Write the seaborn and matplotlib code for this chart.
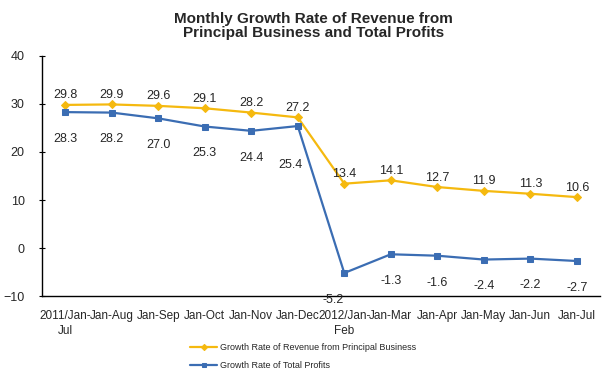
import matplotlib
matplotlib.use('Agg')
import matplotlib.pyplot as plt
import pandas as pd
import seaborn as sns

# periods on the x axis
periods = ['2011/Jan-\nJul', 'Jan-Aug', 'Jan-Sep', 'Jan-Oct', 'Jan-Nov', 'Jan-Dec',
           '2012/Jan-\nFeb', 'Jan-Mar', 'Jan-Apr', 'Jan-May', 'Jan-Jun', 'Jan-Jul']
revenue = [29.8, 29.9, 29.6, 29.1, 28.2, 27.2, 13.4, 14.1, 12.7, 11.9, 11.3, 10.6]
profits = [28.3, 28.2, 27.0, 25.3, 24.4, 25.4, -5.2, -1.3, -1.6, -2.4, -2.2, -2.7]

revenue_name = 'Growth Rate of Revenue from Principal Business'
profits_name = 'Growth Rate of Total Profits'

YELLOW = '#F5B90F'
BLUE = '#3B6DB3'

sns.set_style('white')
plt.rcParams['font.family'] = ['Liberation Sans', 'DejaVu Sans']

df = pd.DataFrame({'pos': range(len(periods)), 'revenue': revenue, 'profits': profits})

fig = plt.figure(figsize=(6.08, 3.83), dpi=100)
ax = fig.add_axes([0.069, 0.227, 0.918, 0.627])

sns.lineplot(data=df, x='pos', y='revenue', ax=ax, color=YELLOW, marker='D',
             markersize=4.5, markeredgecolor=YELLOW, linewidth=1.6, label=revenue_name)
sns.lineplot(data=df, x='pos', y='profits', ax=ax, color=BLUE, marker='s',
             markersize=4.5, markeredgecolor=BLUE, linewidth=1.6, label=profits_name)

# a couple of profit labels are nudged aside in the original
nudge = {5: (-5, -24), 6: (-8, -15)}
for i in range(len(periods)):
    ax.annotate(f'{revenue[i]:.1f}', (i, revenue[i]), xytext=(0, 2.5), textcoords='offset points',
                ha='center', va='bottom', fontsize=9)
    ax.annotate(f'{profits[i]:.1f}', (i, profits[i]), xytext=nudge.get(i, (0, -15)),
                textcoords='offset points', ha='center', va='top', fontsize=9)

ax.set_xlim(-0.5, len(periods) - 0.5)
ax.set_ylim(-10, 40)
ax.set_yticks([-10, 0, 10, 20, 30, 40])
ax.set_xticks(range(len(periods)))
ax.set_xticklabels(periods, fontsize=8.5, linespacing=1.3)
ax.tick_params(axis='x', length=0, pad=10)
ax.set_xticks([i + 0.5 for i in range(len(periods))], minor=True)
ax.tick_params(axis='x', which='minor', direction='in', length=4, color='black')
ax.tick_params(axis='y', direction='inout', length=5, color='black', labelsize=9, left=True, pad=10)
ax.set_xlabel('')
ax.set_ylabel('')
for side in ['top', 'right']:
    ax.spines[side].set_visible(False)
for side in ['left', 'bottom']:
    ax.spines[side].set_color('black')
    ax.spines[side].set_linewidth(1.0)

ax.legend(loc='upper left', bbox_to_anchor=(190 / 608, 1 - 343 / 383), bbox_transform=fig.transFigure,
          frameon=False, fontsize=6.5, handlelength=3, handletextpad=0.3, labelspacing=1.0,
          borderpad=0, borderaxespad=0, markerscale=0.7)

fig.suptitle('Monthly Growth Rate of Revenue from\nPrincipal Business and Total Profits',
             x=0.515, y=0.968, fontsize=11, fontweight='bold', linespacing=1.0)

fig.savefig('out.png', dpi=100)
